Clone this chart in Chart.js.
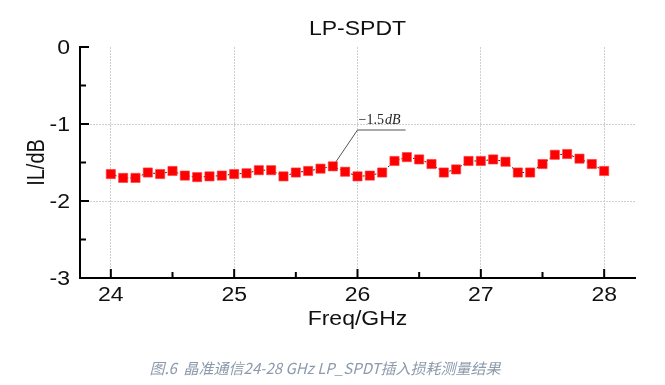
<!DOCTYPE html>
<html lang="zh">
<head>
    <meta charset="UTF-8">
    <title>LP-SPDT</title>
    <script src="https://cdn.jsdelivr.net/npm/chart.js"></script>
    <style>
        html, body { margin: 0; padding: 0; background: #fff; }
        canvas { display: block; }
    </style>
</head>
<body>
    <canvas id="il-chart" width="665" height="385"></canvas>

    <script>
        // measured points, 24-28 GHz in 0.1 GHz steps
        const freq = [24.0, 24.1, 24.2, 24.3, 24.4, 24.5, 24.6, 24.7, 24.8, 24.9,
                      25.0, 25.1, 25.2, 25.3, 25.4, 25.5, 25.6, 25.7, 25.8, 25.9,
                      26.0, 26.1, 26.2, 26.3, 26.4, 26.5, 26.6, 26.7, 26.8, 26.9,
                      27.0, 27.1, 27.2, 27.3, 27.4, 27.5, 27.6, 27.7, 27.8, 27.9, 28.0];
        const il = [-1.65, -1.70, -1.70, -1.63, -1.65, -1.61, -1.67, -1.69, -1.68, -1.67,
                    -1.65, -1.64, -1.60, -1.60, -1.68, -1.63, -1.61, -1.58, -1.55, -1.62,
                    -1.68, -1.67, -1.63, -1.48, -1.43, -1.46, -1.52, -1.63, -1.59, -1.48,
                    -1.48, -1.46, -1.49, -1.63, -1.63, -1.52, -1.40, -1.39, -1.45, -1.52, -1.61];

        // axis ticks
        const xMajor = [24, 25, 26, 27, 28];
        const xMinor = [24.5, 25.5, 26.5, 27.5];
        const yMajor = [0, -1, -2, -3];
        const yMinor = [-0.5, -1.5, -2.5];
        const yGrid = [-1, -2];

        const titleText = 'LP-SPDT';
        const xTitle = 'Freq/GHz';
        const yTitle = 'IL/dB';
        const caption = '图.6  晶准通信24-28 GHz LP_SPDT插入损耗测量结果';

        // callout text and where it sits (data units)
        const calloutLabel = ['\u22121.5', 'dB'];
        const callout = { at: 25.8, elbowX: 26.0, elbowY: -1.078, endX: 26.39 };

        const SANS = '"Liberation Sans", Arial, sans-serif';
        const GRID = '#cfcfcf';
        const FONT = '20px ' + SANS;
        const SX = 1.15;   // the source figure's lettering is a bit wide

        // draws text squeezed/stretched horizontally around (x, y)
        function wideText(ctx, text, x, y, align, baseline, rot) {
            ctx.save();
            ctx.translate(x, y);
            ctx.scale(SX, 1);
            if (rot) ctx.rotate(rot);
            ctx.textAlign = align;
            ctx.textBaseline = baseline;
            ctx.fillText(text, 0, 0);
            ctx.restore();
        }

        const extras = {
            id: 'extras',
            beforeDatasetsDraw(chart) {
                const ctx = chart.ctx;
                const x = chart.scales.x, y = chart.scales.y;
                const i = freq.indexOf(callout.at);
                const px = x.getPixelForValue(freq[i]), py = y.getPixelForValue(il[i]);
                const ex = x.getPixelForValue(callout.elbowX), ey = y.getPixelForValue(callout.elbowY);
                const endX = x.getPixelForValue(callout.endX);
                ctx.save();
                ctx.strokeStyle = '#555';
                ctx.lineWidth = 1;
                ctx.beginPath();
                ctx.moveTo(px, py);
                ctx.lineTo(ex, ey);
                ctx.lineTo(endX, ey);
                ctx.stroke();
                // label: upright number, italic unit
                ctx.fillStyle = '#222';
                ctx.textBaseline = 'alphabetic';
                ctx.font = '14px "Liberation Serif", serif';
                ctx.fillText(calloutLabel[0], ex + 1, ey - 6);
                const w = ctx.measureText(calloutLabel[0]).width;
                ctx.font = 'italic 14px "Liberation Serif", serif';
                ctx.fillText(calloutLabel[1], ex + 2 + w, ey - 6);
                ctx.restore();
            },
            afterDraw(chart) {
                const ctx = chart.ctx;
                const x = chart.scales.x, y = chart.scales.y;
                const a = chart.chartArea;
                ctx.save();
                ctx.strokeStyle = '#000';
                ctx.lineWidth = 2;
                ctx.beginPath();
                // inward tick marks
                xMajor.forEach(v => { const p = x.getPixelForValue(v); ctx.moveTo(p, a.bottom); ctx.lineTo(p, a.bottom - 9); });
                xMinor.forEach(v => { const p = x.getPixelForValue(v); ctx.moveTo(p, a.bottom); ctx.lineTo(p, a.bottom - 6); });
                yMajor.forEach(v => { const p = y.getPixelForValue(v); ctx.moveTo(a.left, p); ctx.lineTo(a.left + 9, p); });
                yMinor.forEach(v => { const p = y.getPixelForValue(v); ctx.moveTo(a.left, p); ctx.lineTo(a.left + 6, p); });
                ctx.stroke();

                // tick labels and titles
                ctx.fillStyle = '#111';
                ctx.font = FONT;
                xMajor.forEach(v => wideText(ctx, String(v), x.getPixelForValue(v), a.bottom + 23, 'center', 'alphabetic'));
                yMajor.forEach(v => wideText(ctx, String(v), a.left - 10, y.getPixelForValue(v) + 7, 'right', 'alphabetic'));
                const cx = (a.left + a.right) / 2;
                wideText(ctx, titleText, cx, 35, 'center', 'alphabetic');
                wideText(ctx, xTitle, cx, a.bottom + 47, 'center', 'alphabetic');
                wideText(ctx, yTitle, 38, (a.top + a.bottom) / 2, 'center', 'middle', -Math.PI / 2);

                // caption
                ctx.fillStyle = '#8c9aab';
                ctx.font = 'italic 15px "Noto Sans CJK SC", sans-serif';
                ctx.textAlign = 'center';
                ctx.textBaseline = 'middle';
                ctx.fillText(caption, 325, 368);
                ctx.restore();
            }
        };

        new Chart(document.getElementById('il-chart').getContext('2d'), {
            type: 'line',
            data: {
                datasets: [{
                    data: freq.map((f, k) => ({ x: f, y: il[k] })),
                    borderColor: '#222',
                    borderWidth: 1,
                    borderDash: [2, 2],
                    pointStyle: 'rect',
                    pointRadius: 6.5,
                    pointBackgroundColor: '#ff0000',
                    pointBorderColor: 'rgba(255,60,60,0.6)',
                    pointBorderWidth: 1,
                    tension: 0
                }]
            },
            options: {
                responsive: false,
                animation: false,
                events: [],
                layout: { padding: { left: 0, right: 30, top: 47, bottom: 50 } },
                plugins: {
                    legend: { display: false },
                    title: { display: false },
                    tooltip: { enabled: false }
                },
                scales: {
                    x: {
                        type: 'linear',
                        min: 23.75,
                        max: 28.25,
                        afterBuildTicks: s => { s.ticks = xMajor.map(v => ({ value: v })); },
                        afterFit: s => { s.height = 57; },
                        ticks: { display: false },
                        grid: { color: GRID, lineWidth: 1, drawTicks: false },
                        border: { display: true, color: '#000', width: 2, dash: [2, 1] }
                    },
                    y: {
                        min: -3,
                        max: 0,
                        afterBuildTicks: s => { s.ticks = yMajor.map(v => ({ value: v })); },
                        afterFit: s => { s.width = 80; },
                        ticks: { display: false },
                        grid: {
                            color: c => yGrid.includes(c.tick.value) ? GRID : 'rgba(0,0,0,0)',
                            lineWidth: 1,
                            drawTicks: false
                        },
                        border: { display: true, color: '#000', width: 2, dash: [2, 1] }
                    }
                }
            },
            plugins: [extras]
        });
    </script>
</body>
</html>
